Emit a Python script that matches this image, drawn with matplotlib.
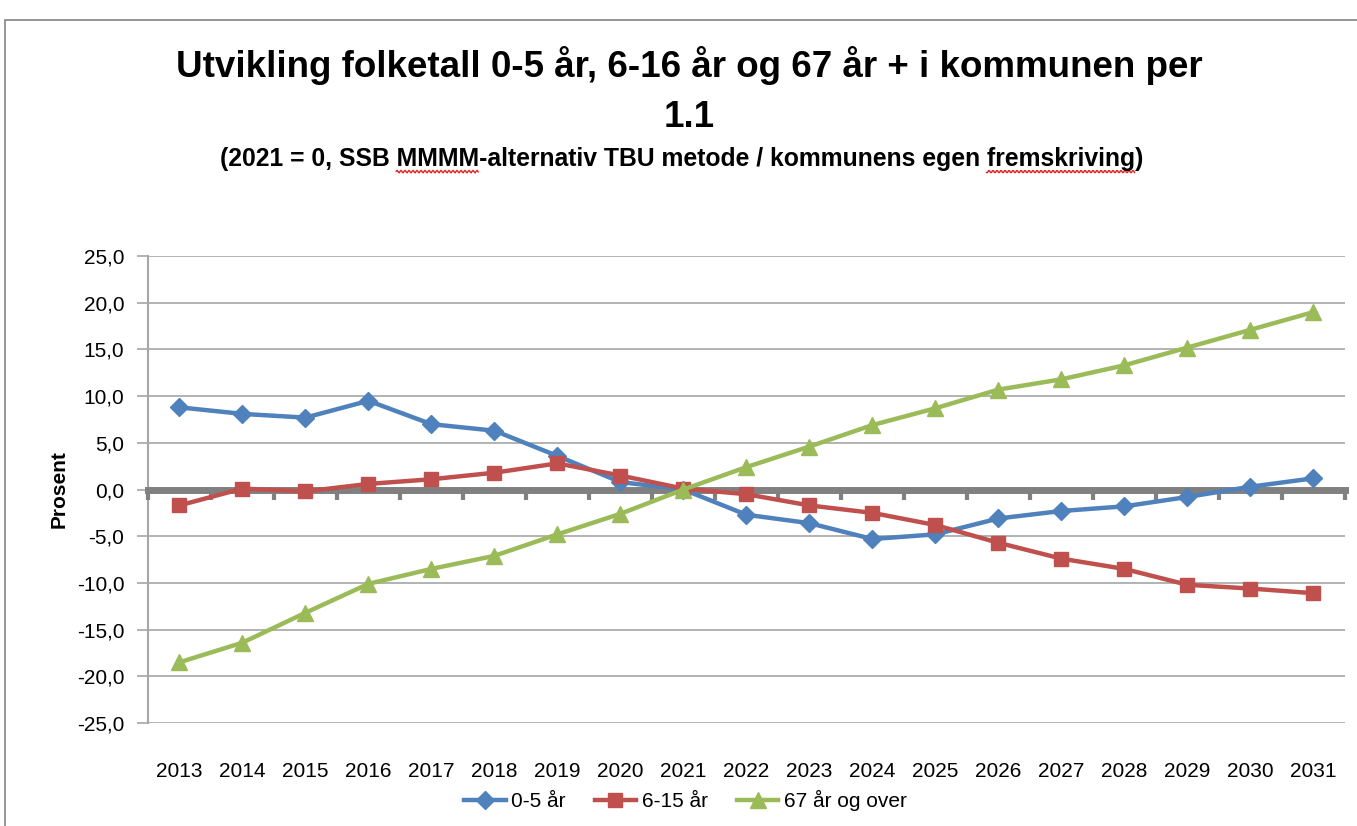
import matplotlib.pyplot as plt
import matplotlib.patches as patches
from matplotlib.lines import Line2D
import numpy as np

# Data (prosent, 2021 = 0)
aar = [2013, 2014, 2015, 2016, 2017, 2018, 2019, 2020, 2021, 2022,
       2023, 2024, 2025, 2026, 2027, 2028, 2029, 2030, 2031]
barn_0_5 = [8.8, 8.1, 7.7, 9.5, 7.0, 6.3, 3.6, 0.8, 0.0, -2.7,
            -3.6, -5.3, -4.8, -3.1, -2.3, -1.8, -0.8, 0.3, 1.2]
barn_6_15 = [-1.7, 0.1, -0.2, 0.6, 1.1, 1.8, 2.8, 1.5, 0.1, -0.5,
             -1.7, -2.5, -3.8, -5.7, -7.4, -8.5, -10.2, -10.6, -11.1]
eldre_67 = [-18.5, -16.4, -13.2, -10.1, -8.5, -7.1, -4.8, -2.6, 0.0, 2.4,
            4.6, 6.9, 8.7, 10.7, 11.8, 13.3, 15.2, 17.1, 19.0]
y_ticks = [-25, -20, -15, -10, -5, 0, 5, 10, 15, 20, 25]

plt.rcParams['font.family'] = ['Liberation Sans', 'DejaVu Sans']

fig = plt.figure(figsize=(13.57, 8.26), dpi=100)
ax = fig.add_axes([0.109, 0.1247, 0.882, 0.5653])

x = np.arange(len(aar))
ax.plot(x, barn_0_5, color='#4F81BD', lw=3.2, marker='D', ms=9, label='0-5 år', zorder=4)
ax.plot(x, barn_6_15, color='#C0504D', lw=3.2, marker='s', ms=10, label='6-15 år', zorder=4)
ax.plot(x, eldre_67, color='#9BBB59', lw=3.2, marker='^', ms=12, label='67 år og over', zorder=4)

ax.set_xlim(-0.5, len(aar) - 0.5)
ax.set_ylim(-25, 25)
ax.set_yticks(y_ticks)
ax.set_yticklabels([f"{v:.1f}".replace('.', ',') for v in y_ticks], fontsize=15)
ax.yaxis.grid(True, color='#a6a6a6', lw=1.2)
ax.set_axisbelow(True)
ax.tick_params(axis='y', length=8, color='#a6a6a6', width=1.2, pad=9)

ax.set_xticks(x)
ax.set_xticklabels([str(a) for a in aar], fontsize=15)
ax.tick_params(axis='x', length=0, pad=28)

for s in ['top', 'right', 'bottom']:
    ax.spines[s].set_visible(False)
ax.spines['left'].set_color('#a6a6a6')
ax.spines['left'].set_linewidth(1.5)

# zero axis with tick marks between categories
nullakse = ax.secondary_xaxis(0.5)
nullakse.set_alignment('bottom')
nullakse.set_xticks([])
nullakse.set_xticks(np.arange(-0.5, len(aar)), minor=True)
nullakse.tick_params(which='minor', direction='out', length=7, width=3, color='#808080',
                     labelbottom=False, labeltop=False)
nullakse.spines['bottom'].set_color('#808080')
nullakse.spines['bottom'].set_linewidth(5)
nullakse.set_zorder(3)

ax.set_ylabel('Prosent', fontsize=15, fontweight='bold')
ax.yaxis.set_label_coords(-0.066, 0.5)

fig.text(0.508, 0.921, 'Utvikling folketall 0-5 år, 6-16 år og 67 år + i kommunen per',
         ha='center', va='center', fontsize=26.5, fontweight='bold')
fig.text(0.508, 0.858, '1.1', ha='center', va='center', fontsize=26.5, fontweight='bold')
undertittel = '(2021 = 0, SSB MMMM-alternativ TBU metode / kommunens egen fremskriving)'
sub = fig.text(0.502, 0.808, undertittel, ha='center', va='center', fontsize=17.8,
               fontweight='bold')

ax.legend(loc='center', bbox_to_anchor=(0.505, 0.031), bbox_transform=fig.transFigure,
          ncol=3, frameon=False, fontsize=15, handlelength=2.0, columnspacing=1.4,
          handletextpad=0.25)

# red spell-check squiggles under two words of the subtitle
fig.canvas.draw()
renderer = fig.canvas.get_renderer()
bb = sub.get_window_extent(renderer)
prop = sub.get_fontproperties()
W, H = fig.bbox.width, fig.bbox.height
for ord_ in ['MMMM', 'fremskriving']:
    i = undertittel.index(ord_)
    xa = bb.x0 + renderer.get_text_width_height_descent(undertittel[:i], prop, ismath=False)[0]
    xb = xa + renderer.get_text_width_height_descent(ord_, prop, ismath=False)[0]
    px = np.arange(xa, xb, 1.0)
    py = bb.y0 - 1 + 1.3 * np.sin(px * np.pi / 2)
    fig.add_artist(Line2D(px / W, py / H, color='#e02020', lw=1.0, transform=fig.transFigure))

# outer chart frame
fig.add_artist(patches.Rectangle((0.0037, -0.1), 1.2, 1.0758, transform=fig.transFigure,
                                 fill=False, edgecolor='#8c8c8c', lw=1.3))

fig.savefig('out.png', dpi=100)
